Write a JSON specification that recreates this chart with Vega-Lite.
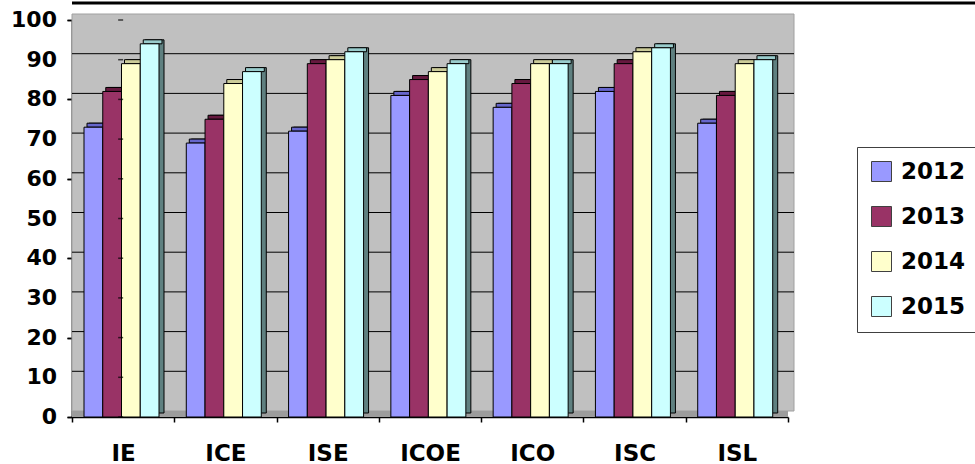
{
  "$schema": "https://vega.github.io/schema/vega-lite/v6.json",
  "width": 716,
  "height": 397,
  "autosize": {"type": "none"},
  "padding": {"left": 72, "top": 20, "right": 187, "bottom": 47},
  "background": "white",
  "config": {
    "view": {"fill": "#D6D6D6", "stroke": null},
    "font": "DejaVu Sans",
    "axis": {"grid": false, "domainColor": "#000000", "domainWidth": 1.5, "tickColor": "#000000", "tickWidth": 1.5, "tickSize": 5, "labelColor": "#000000", "labelFontWeight": "bold"},
    "axisX": {"labelAngle": 0, "labelAlign": "center", "labelFontSize": 23, "labelPadding": 20, "tickBand": "extent"},
    "axisY": {"labelFontSize": 22, "labelPadding": 10, "tickCount": 10, "labelOverlap": false, "labels": false}
  },
  "datasets": {
    "scores": [
      {"program": "IE", "year": "2012", "score": 73},
      {"program": "IE", "year": "2013", "score": 82},
      {"program": "IE", "year": "2014", "score": 89},
      {"program": "IE", "year": "2015", "score": 94},
      {"program": "ICE", "year": "2012", "score": 69},
      {"program": "ICE", "year": "2013", "score": 75},
      {"program": "ICE", "year": "2014", "score": 84},
      {"program": "ICE", "year": "2015", "score": 87},
      {"program": "ISE", "year": "2012", "score": 72},
      {"program": "ISE", "year": "2013", "score": 89},
      {"program": "ISE", "year": "2014", "score": 90},
      {"program": "ISE", "year": "2015", "score": 92},
      {"program": "ICOE", "year": "2012", "score": 81},
      {"program": "ICOE", "year": "2013", "score": 85},
      {"program": "ICOE", "year": "2014", "score": 87},
      {"program": "ICOE", "year": "2015", "score": 89},
      {"program": "ICO", "year": "2012", "score": 78},
      {"program": "ICO", "year": "2013", "score": 84},
      {"program": "ICO", "year": "2014", "score": 89},
      {"program": "ICO", "year": "2015", "score": 89},
      {"program": "ISC", "year": "2012", "score": 82},
      {"program": "ISC", "year": "2013", "score": 89},
      {"program": "ISC", "year": "2014", "score": 92},
      {"program": "ISC", "year": "2015", "score": 93},
      {"program": "ISL", "year": "2012", "score": 74},
      {"program": "ISL", "year": "2013", "score": 81},
      {"program": "ISL", "year": "2014", "score": 89},
      {"program": "ISL", "year": "2015", "score": 90}
    ],
    "gridlines": [
      {"v": 10}, {"v": 20}, {"v": 30}, {"v": 40}, {"v": 50},
      {"v": 60}, {"v": 70}, {"v": 80}, {"v": 90}
    ],
    "yticks": [
      {"v": 0}, {"v": 10}, {"v": 20}, {"v": 30}, {"v": 40}, {"v": 50},
      {"v": 60}, {"v": 70}, {"v": 80}, {"v": 90}, {"v": 100}
    ]
  },
  "resolve": {"scale": {"color": "independent", "xOffset": "independent"}, "axis": {"y": "independent"}},
  "layer": [
    {
      "description": "back wall of the 3D plot box",
      "data": {"values": [{}]},
      "mark": {"type": "rect", "fill": "#C0C0C0", "stroke": "#A0A0A0", "strokeWidth": 1,
               "xOffset": 6, "x2Offset": 6, "yOffset": -6, "y2Offset": -6},
      "encoding": {
        "y": {"datum": 0, "type": "quantitative", "scale": {"domain": [0, 100], "nice": false},
              "axis": {"title": null, "orient": "left", "values": [0, 10, 20, 30, 40, 50, 60, 70, 80, 90, 100], "labelOverlap": false}},
        "y2": {"datum": 100}
      }
    },
    {
      "description": "floor strip",
      "data": {"values": [{}]},
      "mark": {"type": "rect", "fill": "#9C9C9C", "x2Offset": 6, "y2Offset": -6},
      "encoding": {
        "y": {"datum": 0, "type": "quantitative", "axis": null},
        "y2": {"datum": 0}
      }
    },
    {
      "description": "gridlines on the back wall",
      "data": {"name": "gridlines"},
      "mark": {"type": "rule", "color": "#000000", "strokeWidth": 1,
               "xOffset": 6, "x2Offset": 6, "yOffset": -6},
      "encoding": {
        "y": {"field": "v", "type": "quantitative", "axis": null}
      }
    },
    {
      "description": "border line along the top",
      "data": {"values": [{}]},
      "mark": {"type": "rule", "color": "#000000", "strokeWidth": 3,
               "yOffset": -17, "xOffset": 187, "x2Offset": 187},
      "encoding": {
        "y": {"datum": 100, "type": "quantitative", "axis": null}
      }
    },
    {
      "description": "column sides (depth)",
      "data": {"name": "scores"},
      "mark": {"type": "bar", "stroke": "#000000", "strokeWidth": 1, "yOffset": -4, "y2Offset": -4},
      "encoding": {
        "x": {"field": "program", "type": "nominal", "sort": ["IE", "ICE", "ISE", "ICOE", "ICO", "ISC", "ISL"], "title": null},
        "xOffset": {"field": "year", "type": "nominal", "scale": {"range": [17, 92], "paddingInner": 0, "paddingOuter": 0}},
        "y": {"field": "score", "type": "quantitative", "axis": null},
        "color": {"field": "year", "type": "nominal", "legend": null,
                  "scale": {"domain": ["2012", "2013", "2014", "2015"], "range": ["#4D4D99", "#4D1933", "#8A8A6E", "#5F8080"]}}
      }
    },
    {
      "description": "column tops",
      "data": {"name": "scores"},
      "mark": {"type": "bar", "stroke": "#000000", "strokeWidth": 1, "yOffset": -4},
      "encoding": {
        "x": {"field": "program", "type": "nominal", "sort": ["IE", "ICE", "ISE", "ICOE", "ICO", "ISC", "ISL"], "title": null},
        "xOffset": {"field": "year", "type": "nominal", "scale": {"range": [15, 90], "paddingInner": 0, "paddingOuter": 0}},
        "y": {"field": "score", "type": "quantitative", "axis": null},
        "y2": {"field": "score"},
        "color": {"field": "year", "type": "nominal", "legend": null,
                  "scale": {"domain": ["2012", "2013", "2014", "2015"], "range": ["#6666CC", "#66193F", "#CCCC99", "#99CCCC"]}}
      }
    },
    {
      "description": "column fronts",
      "data": {"name": "scores"},
      "mark": {"type": "bar", "stroke": "#000000", "strokeWidth": 1},
      "encoding": {
        "x": {
          "field": "program", "type": "nominal",
          "sort": ["IE", "ICE", "ISE", "ICOE", "ICO", "ISC", "ISL"],
          "scale": {"domain": ["IE", "ICE", "ISE", "ICOE", "ICO", "ISC", "ISL"], "paddingInner": 0, "paddingOuter": 0},
          "title": null
        },
        "xOffset": {"field": "year", "type": "nominal", "scale": {"range": [12, 87], "paddingInner": 0, "paddingOuter": 0}},
        "y": {
          "field": "score", "type": "quantitative",
          "axis": {"title": null, "orient": "left", "values": [0, 10, 20, 30, 40, 50, 60, 70, 80, 90, 100], "labelOverlap": false}
        },
        "color": {
          "field": "year", "type": "nominal",
          "scale": {"domain": ["2012", "2013", "2014", "2015"], "range": ["#9999FF", "#993366", "#FFFFCC", "#CCFFFF"]},
          "legend": {
            "title": null, "orient": "none", "legendX": 785, "legendY": 127,
            "strokeColor": "#404040", "fillColor": "#FFFFFF", "padding": 13,
            "symbolType": "square", "symbolSize": 400, "symbolStrokeColor": "#404040",
            "symbolStrokeWidth": 1, "symbolOpacity": 1,
            "labelFont": "DejaVu Sans", "labelFontSize": 23, "labelFontWeight": "bold",
            "labelColor": "#000000", "labelOffset": 8, "rowPadding": 20
          }
        }
      }
    },
    {
      "description": "value-axis tick marks every 10",
      "data": {"name": "yticks"},
      "mark": {"type": "tick", "orient": "horizontal", "size": 5, "thickness": 1.5, "color": "#000000", "xOffset": -2.5},
      "encoding": {
        "x": {"datum": "IE", "type": "nominal", "bandPosition": 0, "title": null},
        "y": {"field": "v", "type": "quantitative", "axis": null}
      }
    },
    {
      "description": "value-axis labels every 10",
      "data": {"name": "yticks"},
      "mark": {"type": "text", "align": "right", "baseline": "middle", "dx": -15,
               "font": "DejaVu Sans", "fontSize": 22, "fontWeight": "bold", "color": "#000000"},
      "encoding": {
        "x": {"datum": "IE", "type": "nominal", "bandPosition": 0, "title": null},
        "y": {"field": "v", "type": "quantitative", "axis": null},
        "text": {"field": "v", "type": "quantitative"}
      }
    }
  ]
}
